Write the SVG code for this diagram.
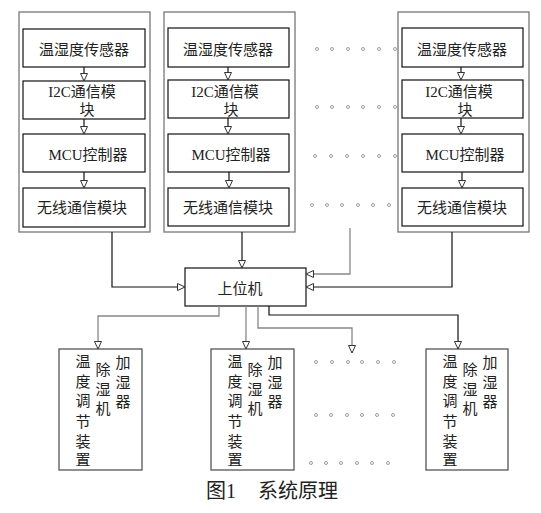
<svg xmlns="http://www.w3.org/2000/svg" width="541" height="513" viewBox="0 0 541 513">
<style>
.outer{fill:#fff;stroke:#777;stroke-width:1.3}
.inner{fill:#fff;stroke:#111;stroke-width:1.2}
.bbox{fill:#fff;stroke:#555;stroke-width:1.3}
.t{font-family:"Liberation Serif","Noto Sans CJK SC",serif;font-size:15px;fill:#222;text-anchor:middle}
.cap{font-family:"Liberation Serif","Noto Sans CJK SC",serif;font-size:20px;fill:#222}
.k{fill:none;stroke:#111;stroke-width:1.2}
.g{fill:none;stroke:#888;stroke-width:1.3}
.dot{fill:none;stroke:#888;stroke-width:0.8}
</style>
<defs>
<marker id="ah" markerUnits="userSpaceOnUse" markerWidth="10" markerHeight="10" refX="8" refY="4" orient="auto">
<path d="M0.5,0.5 L8,4 L0.5,7.5 z" fill="#fff" stroke="#333" stroke-width="1"/>
</marker>
</defs>
<rect width="541" height="513" fill="#fff"/>

<g id="node-left">
<rect class="outer" x="19" y="12" width="131" height="220"/>
<rect class="inner" x="23" y="29" width="122" height="38"/>
<text class="t" x="84" y="55">温湿度传感器</text>
<rect class="inner" x="23" y="81" width="122" height="38"/>
<text class="t" x="82" y="97">I2C通信模</text>
<text class="t" x="87" y="115">块</text>
<rect class="inner" x="23" y="134" width="122" height="38"/>
<text class="t" x="88" y="160">MCU控制器</text>
<rect class="inner" x="23" y="188" width="122" height="39"/>
<text class="t" x="82" y="213">无线通信模块</text>
</g>

<g id="node-mid">
<rect class="outer" x="164" y="12" width="131" height="220"/>
<rect class="inner" x="168" y="28" width="121" height="39"/>
<text class="t" x="228" y="55">温湿度传感器</text>
<rect class="inner" x="168" y="80" width="121" height="38"/>
<text class="t" x="225" y="97">I2C通信模</text>
<text class="t" x="231" y="115">块</text>
<rect class="inner" x="168" y="134" width="121" height="38"/>
<text class="t" x="231" y="160">MCU控制器</text>
<rect class="inner" x="168" y="188" width="121" height="38"/>
<text class="t" x="228" y="213">无线通信模块</text>
</g>

<g id="node-right">
<rect class="outer" x="398" y="12" width="131" height="220"/>
<rect class="inner" x="402" y="28" width="121" height="39"/>
<text class="t" x="462" y="55">温湿度传感器</text>
<rect class="inner" x="402" y="80" width="121" height="38"/>
<text class="t" x="459" y="97">I2C通信模</text>
<text class="t" x="465" y="115">块</text>
<rect class="inner" x="402" y="134" width="121" height="38"/>
<text class="t" x="465" y="160">MCU控制器</text>
<rect class="inner" x="402" y="188" width="121" height="38"/>
<text class="t" x="462" y="213">无线通信模块</text>
</g>

<g id="node-host">
<rect class="inner" x="185" y="268" width="121" height="38"/>
<text class="t" x="240" y="294">上位机</text>
</g>

<g id="node-dev1">
<rect class="bbox" x="59" y="349" width="83" height="121"/>
<g class="t">
<text x="83" y="367">温</text><text x="83" y="387">度</text><text x="83" y="406">调</text><text x="83" y="427">节</text><text x="83" y="447">装</text><text x="83" y="465">置</text>
<text x="103" y="375">除</text><text x="103" y="395">湿</text><text x="103" y="414">机</text>
<text x="123" y="368">加</text><text x="123" y="388">湿</text><text x="123" y="407">器</text>
</g>
</g>

<g id="node-dev2">
<rect class="bbox" x="211" y="349" width="83" height="121"/>
<g class="t">
<text x="235" y="367">温</text><text x="235" y="387">度</text><text x="235" y="406">调</text><text x="235" y="427">节</text><text x="235" y="447">装</text><text x="235" y="465">置</text>
<text x="255" y="375">除</text><text x="255" y="395">湿</text><text x="255" y="414">机</text>
<text x="275" y="368">加</text><text x="275" y="388">湿</text><text x="275" y="407">器</text>
</g>
</g>

<g id="node-dev3">
<rect class="bbox" x="426" y="349" width="82" height="121"/>
<g class="t">
<text x="450" y="367">温</text><text x="450" y="387">度</text><text x="450" y="406">调</text><text x="450" y="427">节</text><text x="450" y="447">装</text><text x="450" y="465">置</text>
<text x="470" y="375">除</text><text x="470" y="395">湿</text><text x="470" y="414">机</text>
<text x="490" y="368">加</text><text x="490" y="388">湿</text><text x="490" y="407">器</text>
</g>
</g>

<g id="dots">
<g class="dot">
<circle cx="317" cy="49" r="1.5"/><circle cx="332" cy="49" r="1.5"/><circle cx="348" cy="49" r="1.5"/><circle cx="363" cy="49" r="1.5"/><circle cx="379" cy="49" r="1.5"/><circle cx="395" cy="49" r="1.5"/>
<circle cx="317" cy="107" r="1.5"/><circle cx="332" cy="107" r="1.5"/><circle cx="348" cy="107" r="1.5"/><circle cx="363" cy="107" r="1.5"/><circle cx="379" cy="107" r="1.5"/><circle cx="395" cy="107" r="1.5"/>
<circle cx="315" cy="156" r="1.5"/><circle cx="331" cy="156" r="1.5"/><circle cx="347" cy="156" r="1.5"/><circle cx="363" cy="156" r="1.5"/><circle cx="379" cy="156" r="1.5"/><circle cx="395" cy="156" r="1.5"/>
<circle cx="312" cy="205" r="1.5"/><circle cx="327" cy="205" r="1.5"/><circle cx="342" cy="205" r="1.5"/><circle cx="358" cy="205" r="1.5"/><circle cx="373" cy="205" r="1.5"/><circle cx="389" cy="205" r="1.5"/>
<circle cx="316" cy="362" r="1.5"/><circle cx="332" cy="362" r="1.5"/><circle cx="348" cy="362" r="1.5"/><circle cx="362" cy="362" r="1.5"/><circle cx="378" cy="362" r="1.5"/><circle cx="394" cy="362" r="1.5"/>
<circle cx="316" cy="415" r="1.5"/><circle cx="331" cy="415" r="1.5"/><circle cx="347" cy="415" r="1.5"/><circle cx="362" cy="415" r="1.5"/><circle cx="377" cy="415" r="1.5"/><circle cx="393" cy="415" r="1.5"/>
<circle cx="311" cy="463" r="1.5"/><circle cx="326" cy="463" r="1.5"/><circle cx="341" cy="463" r="1.5"/><circle cx="357" cy="463" r="1.5"/><circle cx="372" cy="463" r="1.5"/><circle cx="388" cy="463" r="1.5"/>
</g>
</g>

<g id="connectors">
<path class="k" d="M84,67 V81" marker-end="url(#ah)"/>
<path class="k" d="M84,119 V134" marker-end="url(#ah)"/>
<path class="k" d="M84,172 V188" marker-end="url(#ah)"/>
<path class="k" d="M228,67 V80" marker-end="url(#ah)"/>
<path class="k" d="M228,118 V134" marker-end="url(#ah)"/>
<path class="k" d="M229,172 V188" marker-end="url(#ah)"/>
<path class="k" d="M461,67 V80" marker-end="url(#ah)"/>
<path class="k" d="M461,118 V134" marker-end="url(#ah)"/>
<path class="k" d="M462,172 V188" marker-end="url(#ah)"/>

<path class="k" d="M112,232 V287 H185" marker-end="url(#ah)"/>
<path class="k" d="M242,232 V268" marker-end="url(#ah)"/>
<path class="g" d="M350,228 V274 H306" marker-end="url(#ah)"/>
<path class="k" d="M452,232 V287 H306" marker-end="url(#ah)"/>

<path class="g" d="M219,306 V316 H98 V349" marker-end="url(#ah)"/>
<path class="g" d="M246,306 V349" marker-end="url(#ah)"/>
<path class="g" d="M258,306 V328 H352 V353" marker-end="url(#ah)"/>
<path class="k" d="M269,306 V315 H458 V349" marker-end="url(#ah)"/>
</g>

<g id="caption">
<text class="cap" x="206" y="498">图1</text>
<text class="cap" x="258" y="498">系统原理</text>
</g>
</svg>
